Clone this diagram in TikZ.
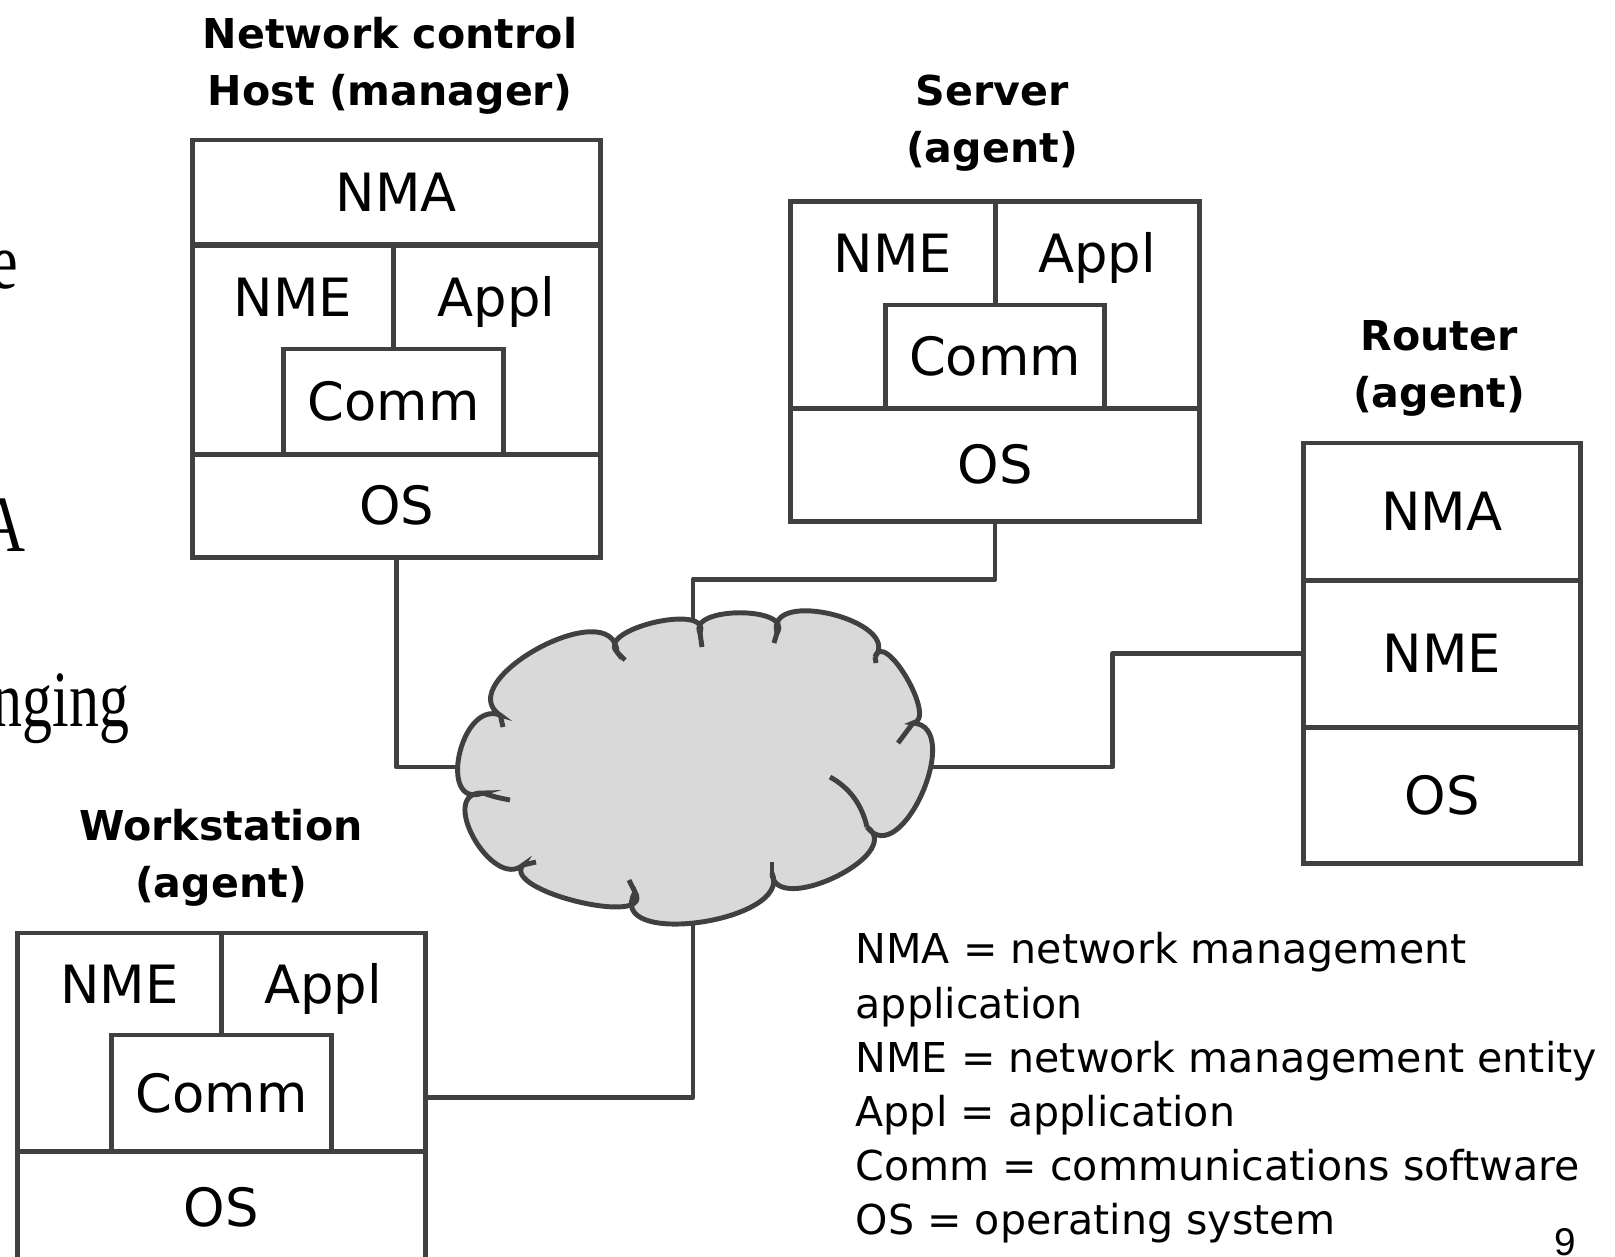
\documentclass[tikz,border=0pt]{standalone}
\usepackage{fontspec}
\setmainfont{DejaVu Sans}
\newfontfamily\cutfont{Liberation Serif}
\newfontfamily\pagefont{Liberation Sans}
\usetikzlibrary{calc}
\definecolor{linegray}{HTML}{404040}
\definecolor{cloudgray}{HTML}{D9D9D9}

\begin{document}
\begin{tikzpicture}[x=0.01cm, y=-0.01cm,
  layer/.style={draw=linegray, line width=1.4pt, rectangle, inner sep=0pt,
    text height=11pt, text depth=0pt, font=\fontsize{15}{18}\selectfont},
  cell/.style={rectangle, inner sep=0pt, text height=11pt, text depth=0pt,
    font=\fontsize{15}{18}\selectfont},
  title/.style={align=center, inner sep=0pt, font=\fontsize{11.7}{16.2}\selectfont\bfseries},
  cut/.style={anchor=base east, inner sep=0pt, font=\cutfont\fontsize{22.7}{26}\selectfont},
  link/.style={draw=linegray, line width=1.4pt, line join=round},
  hook/.style={draw=linegray, line width=1.4pt}]
\useasboundingbox (0,0) rectangle (1615,1256);

% cut-off slide text at the left edge
\node[cut] (cut1) at (19,288) {\scalebox{0.78}[1]{e}};
\node[cut] (cut2) at (26,551) {\scalebox{0.78}[1]{A}};
\node[cut] (cut3) at (130,726) {\scalebox{0.75}[1]{nging}};

% manager host
\node[title] (hostTitle) at (390,66) {Network control\\Host (manager)};
\node[layer, minimum width=4.07cm, minimum height=1.05cm] (hostNMA) at (396.5,192.5) {NMA};
\node[layer, minimum width=4.07cm, minimum height=2.09cm] (hostMid) at (396.5,349.5) {};
\node[cell, minimum width=2.00cm, minimum height=1.04cm] (hostNME) at (293,297) {NME};
\node[cell, minimum width=2.07cm, minimum height=1.04cm] (hostAppl) at (496.5,297) {Appl};
\draw[link] (hostNME.north east) -- (hostNME.south east);
\node[layer, minimum width=2.19cm, minimum height=1.05cm] (hostComm) at (393.5,401.5) {Comm};
\node[layer, minimum width=4.07cm, minimum height=1.03cm] (hostOS) at (396.5,505.5) {OS};

% server
\node[title] (srvTitle) at (992,123) {Server\\(agent)};
\node[layer, minimum width=4.08cm, minimum height=2.06cm] (srvMid) at (995,305) {};
\node[cell, minimum width=2.04cm, minimum height=1.03cm] (srvNME) at (893,253.5) {NME};
\node[cell, minimum width=2.04cm, minimum height=1.03cm] (srvAppl) at (1097,253.5) {Appl};
\draw[link] (srvNME.north east) -- (srvNME.south east);
\node[layer, minimum width=2.18cm, minimum height=1.03cm] (srvComm) at (995,356.5) {Comm};
\node[layer, minimum width=4.08cm, minimum height=1.13cm] (srvOS) at (995,464.5) {OS};

% router
\node[title] (rtTitle) at (1439,368) {Router\\(agent)};
\node[layer, minimum width=2.76cm, minimum height=1.37cm] (rtNMA) at (1442,511.5) {NMA};
\node[layer, minimum width=2.76cm, minimum height=1.47cm] (rtNME) at (1442,653.5) {NME};
\node[layer, minimum width=2.76cm, minimum height=1.36cm] (rtOS) at (1442,795) {OS};

% workstation
\node[title] (wsTitle) at (221,858) {Workstation\\(agent)};
\node[layer, minimum width=4.07cm, minimum height=2.18cm] (wsMid) at (221.5,1042) {};
\node[cell, minimum width=2.03cm, minimum height=1.02cm] (wsNME) at (119.5,984) {NME};
\node[cell, minimum width=2.04cm, minimum height=1.02cm] (wsAppl) at (323,984) {Appl};
\draw[link] (wsNME.north east) -- (wsNME.south east);
\node[layer, minimum width=2.19cm, minimum height=1.16cm] (wsComm) at (221.5,1093) {Comm};
\node[layer, minimum width=4.07cm, minimum height=1.12cm] (wsOS) at (221.5,1207) {OS};

% network cloud and links
\coordinate (netW) at (475,767);
\coordinate (netN) at (693,645);
\coordinate (netE) at (915,767);
\coordinate (netS) at (693,910);
\draw[link] (hostOS.south) |- (netW);
\draw[link] (srvOS.south) -- ++(0,56) -| (netN);
\draw[link] (rtNME.west) -- ++(-189,0) |- (netE);
\draw[link] ($(wsMid.east)!0.5!(wsMid.south east)$) -| (netS);

\filldraw[fill=cloudgray, draw=linegray, line width=1.4pt]
  (500,715) .. controls (450,681) and (613,592) .. (617,652)
  .. controls (595,629) and (712,602) .. (700,633)
  .. controls (687,606) and (794,606) .. (777,633)
  .. controls (765,587) and (903,621) .. (875,657)
  .. controls (884,628) and (938,720) .. (913,723)
  .. controls (965,726) and (901,872) .. (867,827)
  .. controls (907,854) and (774,918) .. (772,873)
  .. controls (794,922) and (603,949) .. (635,892)
  .. controls (656,928) and (500,891) .. (523,865)
  .. controls (492,891) and (436,791) .. (483,793)
  .. controls (437,810) and (460,700) .. (500,715) -- cycle;
\draw[hook] (500,714) -- (503,727);
\draw[hook] (617,652) -- (625,660);
\draw[hook] (700,633) -- (702,647);
\draw[hook] (777,633) -- (774,643);
\draw[hook] (875,657) -- (876,663);
\draw[hook] (913,723) -- (898,743);
\draw[hook] (867,827) .. controls (862,805) and (850,788) .. (830,777);
\draw[hook] (772,873) -- (772,862);
\draw[hook] (635,892) -- (629,880);
\draw[hook] (523,865) -- (536,862);
\draw[hook] (483,793) .. controls (495,797) .. (510,800);

% legend
\node[anchor=north west, align=left, inner sep=0pt, font=\fontsize{11.7}{15.4}\selectfont] (legend) at (855,932)
  {NMA = network management\\application\\NME = network management entity\\Appl = application\\Comm = communications software\\OS = operating system};
\node[anchor=north, inner sep=0pt, font=\pagefont\fontsize{11}{13}\selectfont] (pagenum) at (1565,1228) {9};
\end{tikzpicture}
\end{document}
